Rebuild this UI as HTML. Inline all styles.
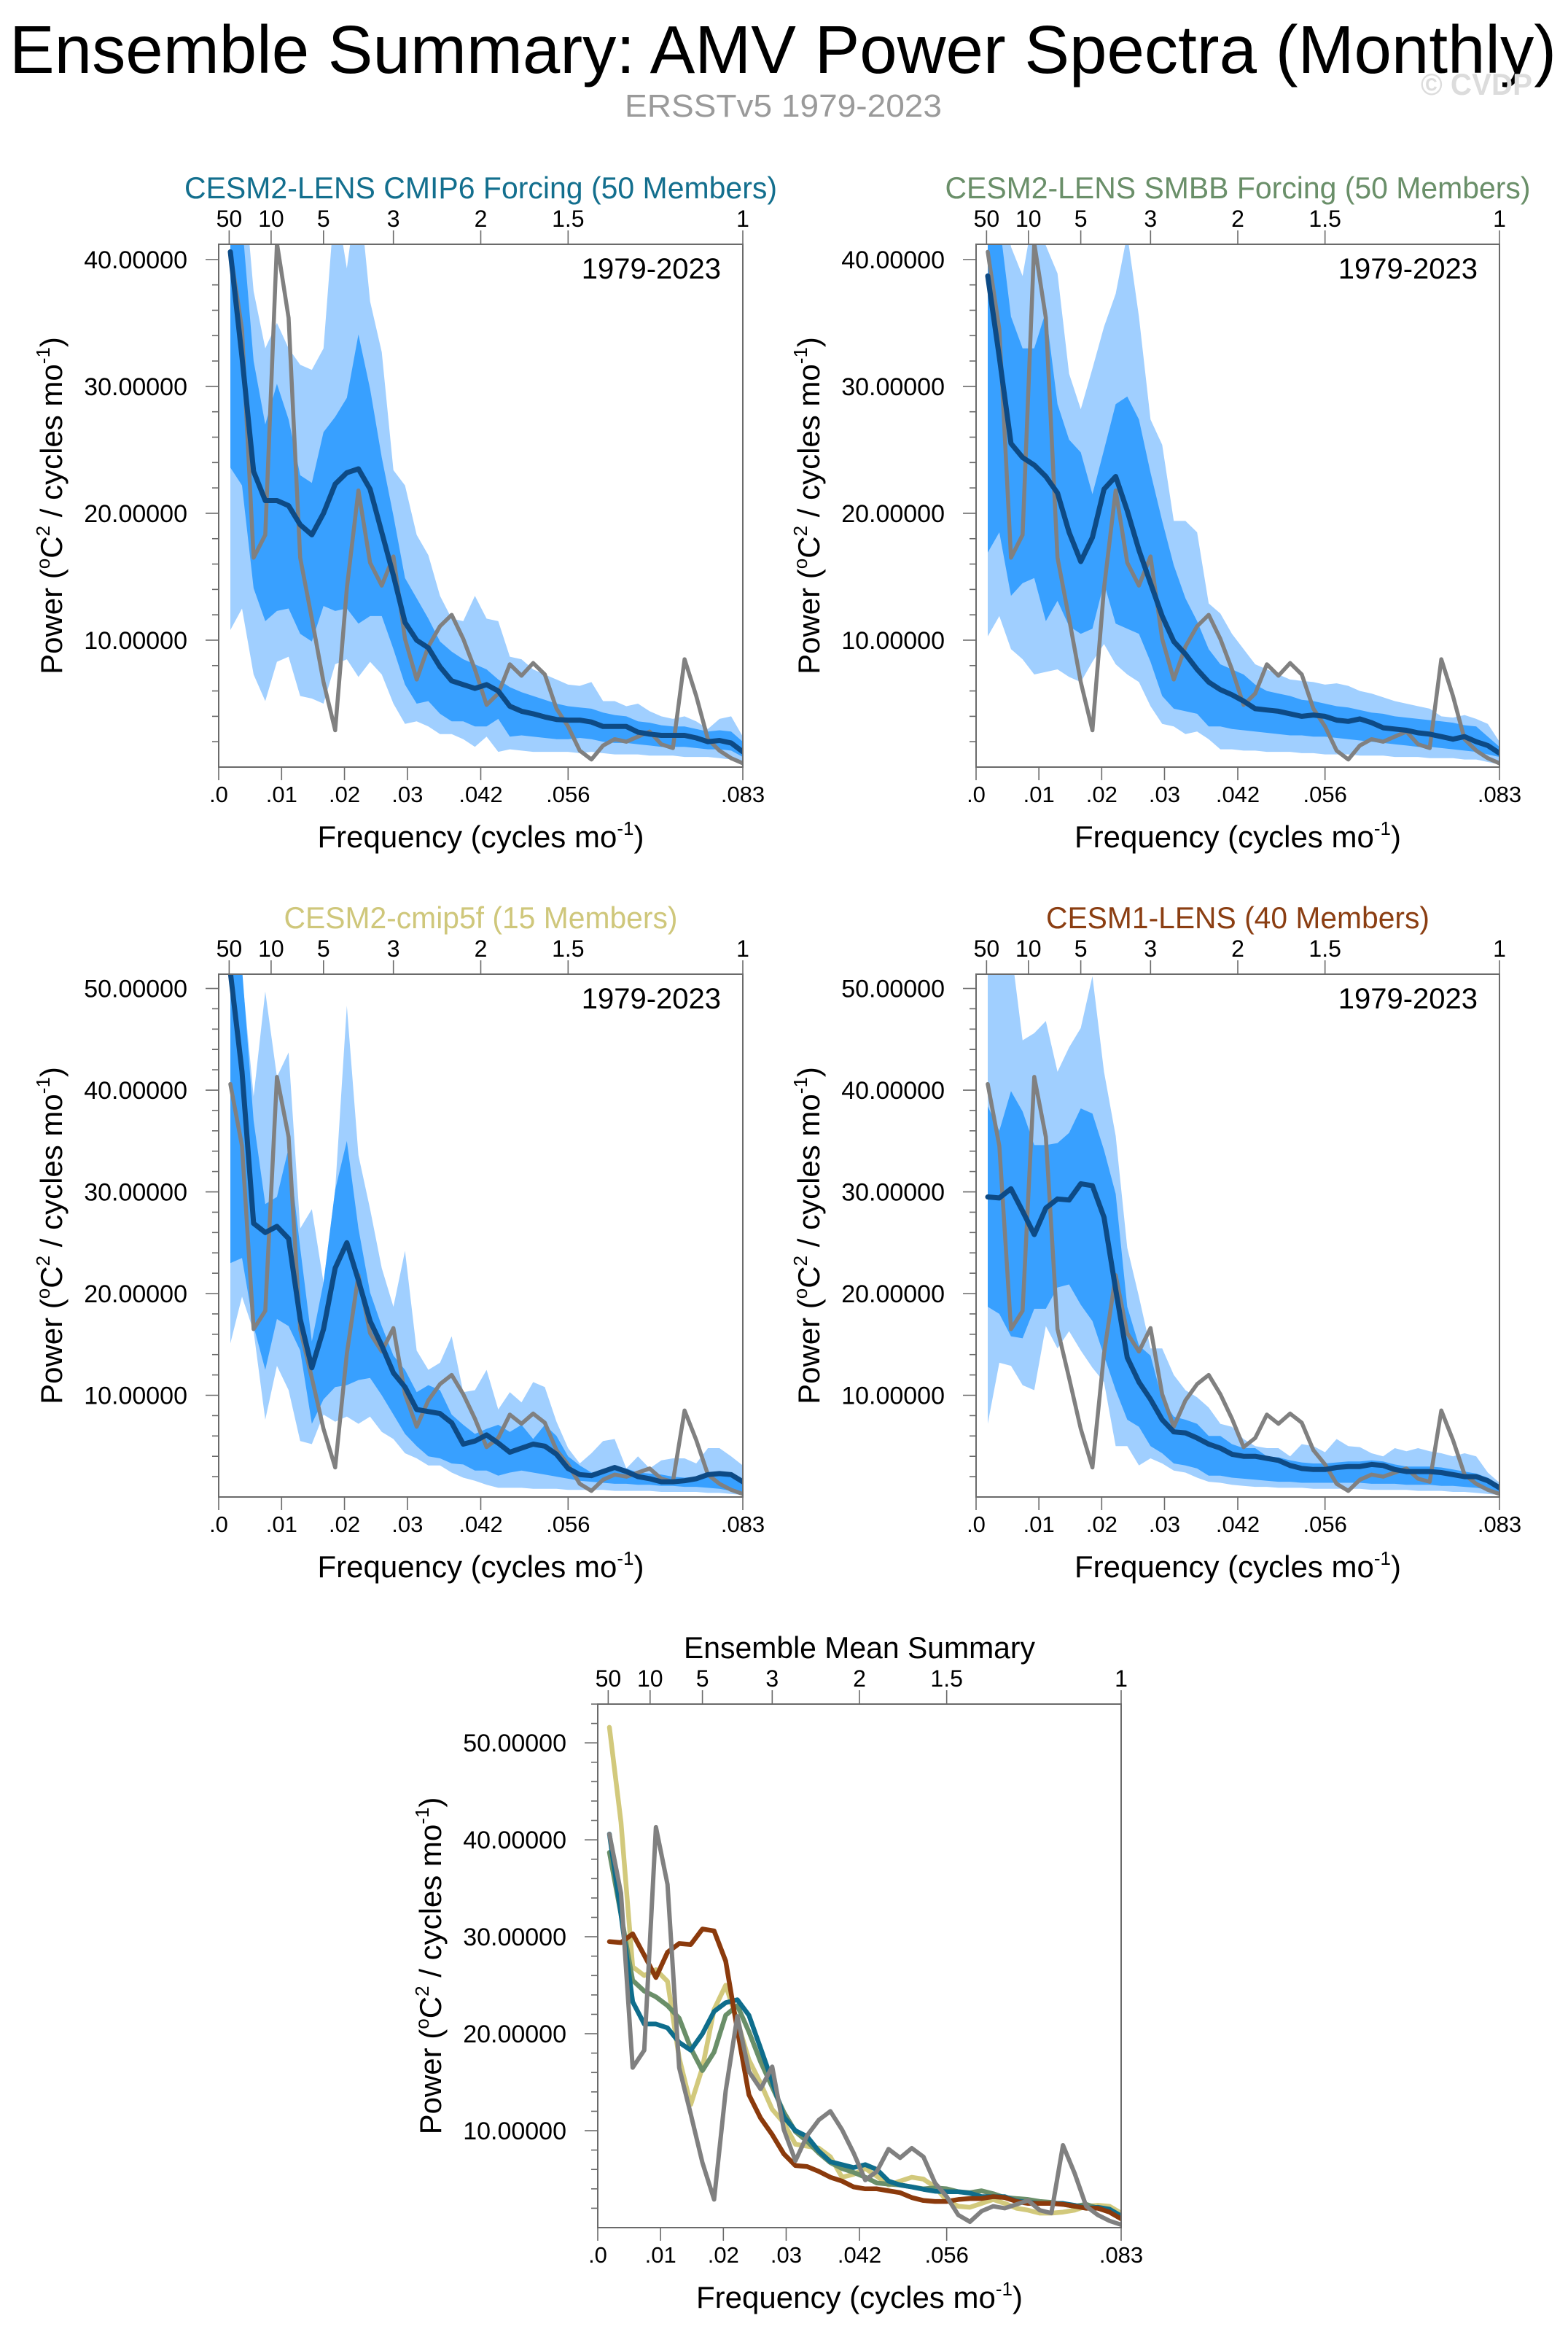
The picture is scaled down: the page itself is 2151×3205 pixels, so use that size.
<!DOCTYPE html>
<html><head><meta charset="utf-8">
<style>
html,body{margin:0;padding:0;background:#fff;}
svg{display:block;font-family:"Liberation Sans",Arial,sans-serif;}
</style></head>
<body>
<svg id="fig" xmlns="http://www.w3.org/2000/svg" width="2151" height="3205" viewBox="0 0 2151 3205">
<rect x="0" y="0" width="2151" height="3205" fill="#ffffff"/>
<text x="13" y="100" font-size="93" textLength="2122" lengthAdjust="spacingAndGlyphs" fill="#000">Ensemble Summary: AMV Power Spectra (Monthly)</text>
<text x="1949" y="130" font-size="42" font-weight="bold" fill="#dcdcdc" textLength="153" lengthAdjust="spacingAndGlyphs">© CVDP</text>
<text x="857" y="160" font-size="44" fill="#9a9a9a" textLength="435" lengthAdjust="spacingAndGlyphs">ERSSTv5 1979-2023</text>
</svg>
<script>
// ---------- data (45 frequencies k/540, k=1..45) ----------
const periodTickLabels = ["50","10","5","3","2","1.5","1"];
const periodTickValues = [50,10,5,3,2,1.5,1];
const freqTickLabels = [".0",".01",".02",".03",".042",".056",".083"];
const freqTickValues = [0,0.01,0.02,0.03,1/24,1/18,1/12];
const row1YTicks = [10,20,30,40];
const row2YTicks = [10,20,30,40,50];

const obs = [40.6,34.5,16.5,18.3,41.3,35.4,16.5,11.7,6.7,2.9,14.1,21.8,16.1,14.3,16.6,10.1,6.9,9.5,11.1,12.0,10.1,7.7,4.9,5.8,8.1,7.2,8.2,7.3,4.6,3.2,1.3,0.6,1.7,2.2,2.0,2.4,2.8,1.8,1.5,8.5,5.6,2.2,1.3,0.7,0.3];

const p1Mean = [40.6,32.3,23.3,21.0,21.0,20.6,19.1,18.3,20.0,22.3,23.2,23.5,21.9,18.5,15.1,11.4,10.0,9.4,7.9,6.8,6.5,6.2,6.5,6.0,4.8,4.4,4.2,3.95,3.75,3.7,3.7,3.55,3.2,3.2,3.2,2.75,2.6,2.5,2.5,2.5,2.3,2.0,2.1,1.9,1.2];
const p1DarkHi = [45,43,32,27,30.2,27.4,23,22.4,26.4,27.6,29.1,34.1,29.8,24.4,19.8,14.9,13.3,11.7,9.9,9.1,8.5,8.1,7.7,6.9,6.3,5.9,5.6,5.3,5.0,4.8,4.7,4.6,4.3,4.1,4.0,3.6,3.5,3.3,3.2,3.2,3.0,2.8,2.9,2.8,2.0];
const p1DarkLo = [23.6,22.2,14.1,11.5,12.3,12.5,10.5,9.9,12.7,12.3,12.5,11.3,11.9,11.9,9.3,6.5,5.0,5.2,4.2,3.6,3.6,3.2,3.2,3.8,2.4,2.5,2.4,2.3,2.2,2.2,2.3,2.2,2.0,1.9,1.9,1.8,1.7,1.6,1.6,1.6,1.5,1.4,1.4,1.3,0.8];
const p1LightHi = [50,48,37.5,33,35,33,31.7,31.3,33,45,39.3,46,36.7,32.7,23.4,22.2,18.3,16.7,13.5,11.7,11.5,13.5,11.7,11.5,8.7,8.5,7.7,7.3,6.9,6.5,6.4,6.7,5.2,5.2,4.8,5.0,4.4,4.0,3.8,4.0,3.6,3.0,3.8,4.0,2.4];
const p1LightLo = [10.8,12.5,7.3,5.2,8.3,8.7,5.6,5.4,5.0,8.1,8.5,7.1,8.3,7.3,5.0,3.4,3.6,3.2,2.6,2.6,2.2,1.6,2.4,1.2,1.4,1.3,1.2,1.2,1.2,1.2,1.1,1.2,1.1,1.0,1.0,1.0,0.9,0.9,0.9,0.8,0.8,0.8,0.7,0.6,0.2];

const p2Mean = [38.7,32.3,25.5,24.4,23.8,22.9,21.6,18.5,16.2,18.1,21.9,22.9,20.2,17.1,14.5,11.9,9.9,8.9,7.7,6.7,6.1,5.7,5.2,4.6,4.5,4.4,4.2,4.0,4.1,4.0,3.7,3.6,3.8,3.5,3.1,3.0,2.9,2.7,2.6,2.4,2.2,2.4,2.0,1.7,1.1];
const p2DarkHi = [45,43,35.5,33,33,35.9,28.6,25.8,24.8,21.5,25,28.6,29.2,27.4,23.2,19.4,15.9,13.3,11.5,9.3,8.1,7.7,7.3,6.5,6.0,5.8,5.6,5.3,5.2,5.0,4.8,4.7,4.5,4.3,4.2,4.0,3.9,3.8,3.7,3.6,3.5,3.3,3.2,2.4,1.6];
const p2DarkLo = [16.9,18.5,13.5,14.5,14.9,11.5,13.1,11.1,10.5,10.9,14.5,11.3,10.9,10.5,8.3,5.6,4.6,4.4,4.2,3.2,3.2,3.0,2.9,2.8,2.7,2.6,2.5,2.5,2.4,2.4,2.3,2.2,2.1,2.0,1.9,1.8,1.7,1.6,1.6,1.5,1.4,1.3,1.2,1.0,0.8];
const p2LightHi = [48,46,41,38.7,44,41.1,38.9,31,28.2,31.4,34.7,37.3,42,35.5,27.4,25.4,19.4,19.4,18.5,12.9,12.1,10.5,9.3,8.1,7.7,7.3,6.9,6.8,6.7,6.5,6.6,6.4,6.0,5.8,5.5,5.2,5.0,4.8,4.6,4.0,3.9,4.1,3.8,3.4,2.0];
const p2LightLo = [10.3,11.9,9.3,8.5,7.3,7.5,7.7,7.1,6.7,8.3,9.7,8.1,7.3,6.7,4.8,3.4,3.2,2.6,2.8,2.2,1.4,1.4,1.3,1.3,1.2,1.2,1.2,1.1,1.1,1.0,1.0,1.0,0.9,0.9,0.9,0.8,0.8,0.8,0.7,0.7,0.7,0.6,0.6,0.4,0.2];

const p3Mean = [51.6,41.8,26.9,26.0,26.6,25.4,17.5,12.7,16.5,22.5,25.0,21.3,17.3,14.9,12.2,10.8,8.6,8.4,8.2,7.3,5.2,5.5,6.1,5.3,4.4,4.8,5.2,5.0,4.2,2.8,2.2,2.1,2.5,2.9,2.5,2.0,1.8,1.5,1.5,1.6,1.8,2.2,2.3,2.2,1.5];
const p3DarkHi = [54,52,37,28.8,29.5,34.3,24.5,15.3,21.1,30.2,35,26.4,20.1,16.8,13.9,12.5,10.3,11.0,10.5,8.1,7.1,6.2,6.7,7.1,6.4,7.1,5.7,7.1,6.0,4.0,3.1,2.4,2.6,3.1,2.8,2.4,2.3,2.2,2.0,1.9,2.0,2.2,2.3,2.4,1.4];
const p3DarkLo = [23,23.5,16.8,12.5,17.5,16.8,14.4,7.2,9.6,10.8,11.0,11.5,11.7,10.0,8.1,6.2,5.0,4.0,3.8,3.3,3.2,2.6,2.6,2.1,2.4,2.6,2.4,2.2,2.0,1.8,1.6,1.5,1.4,1.3,1.3,1.2,1.2,1.1,1.1,1.0,1.0,0.9,0.8,0.6,0.4];
const p3LightHi = [56,51.4,39.4,49.7,41.3,43.7,26.4,28.3,21.1,30.2,48.3,33.6,28.3,22.5,18.7,24.2,14.4,12.5,13.2,15.8,10.3,10.5,12.5,8.6,10.3,9.3,11.3,10.8,7.4,4.8,3.3,4.3,5.5,5.7,2.8,4.0,2.8,3.6,3.8,3.8,3.3,4.8,4.8,4.0,3.1];
const p3LightLo = [15.1,19.7,16.3,7.6,12.9,10.5,5.5,5.2,8.1,7.4,7.9,7.2,7.9,6.4,5.7,4.3,3.8,3.1,3.1,2.4,1.9,1.6,1.2,0.9,0.9,0.9,0.8,0.8,0.8,0.7,0.7,0.7,0.7,0.6,0.6,0.6,0.6,0.5,0.5,0.5,0.5,0.4,0.4,0.3,0.2];

const p4Mean = [29.5,29.4,30.3,28.1,25.8,28.4,29.3,29.2,30.8,30.6,27.5,20.4,13.7,11.3,9.6,7.6,6.4,6.3,5.8,5.2,4.8,4.2,4.0,4.0,3.8,3.6,3.1,2.8,2.7,2.7,2.9,3.0,3.0,3.2,3.1,2.7,2.5,2.5,2.5,2.4,2.2,2.0,2.0,1.6,0.9];
const p4DarkHi = [38.4,36,39.9,37.9,34.6,34.6,34.8,35.8,38.2,37.7,34.1,29.8,18.7,14.9,13.9,9.6,7.9,7.6,7.2,6.0,6.0,5.2,4.8,4.8,4.0,3.9,3.6,3.4,3.3,3.3,3.4,3.5,3.5,3.6,3.5,3.2,3.0,3.0,3.0,2.9,2.7,2.5,2.3,1.9,1.2];
const p4DarkLo = [18.7,18.0,15.8,15.6,18.5,18.5,20.6,20.9,18.9,17.3,13.9,10.5,7.6,6.9,5.0,4.3,3.3,3.1,2.8,2.1,2.1,1.9,1.8,1.7,1.6,1.5,1.5,1.4,1.4,1.4,1.4,1.4,1.4,1.3,1.3,1.3,1.2,1.2,1.2,1.1,1.1,1.0,0.9,0.7,0.4];
const p4LightHi = [56,53,54,44.9,45.6,46.8,41.8,44.2,46.1,51.2,41.8,35.5,24.5,19.7,14.6,14.6,12.0,10.5,9.8,8.8,7.2,6.9,5.7,5.0,4.8,4.8,4.0,5.2,5.0,4.4,5.7,5.0,4.9,4.3,4.0,4.8,4.5,4.8,4.5,4.3,4.0,4.3,4.0,2.4,1.4];
const p4LightLo = [7.2,13.2,12.9,11.0,10.5,16.8,14.6,16.3,14.4,12.7,11.3,5.0,5.0,3.1,3.8,3.3,2.6,2.4,1.9,1.5,1.4,1.2,1.1,1.0,1.0,0.9,0.9,0.9,0.8,0.8,0.8,0.8,0.8,0.7,0.7,0.7,0.7,0.6,0.6,0.6,0.5,0.5,0.4,0.3,0.2];

// ---------- drawing ----------
const NS = "http://www.w3.org/2000/svg";
const svg = document.getElementById("fig");
const NPTS = 540;
const FMAX = 1/12;
const C_LIGHT = "#a0cfff", C_DARK = "#38a0ff", C_MEAN = "#0d4a85", C_OBS = "#808080", C_AXIS = "#6a6a6a";

function mk(tag, attrs, parent) {
  const e = document.createElementNS(NS, tag);
  for (const k in attrs) e.setAttribute(k, attrs[k]);
  (parent || svg).appendChild(e);
  return e;
}
function freqs(n) { const f = []; for (let k = 1; k <= n; k++) f.push(k / NPTS); return f; }

let clipId = 0;
function panel(cfg) {
  const g = mk("g", {});
  
  
  const x0 = cfg.x0, y0 = cfg.y0, w = cfg.w, h = cfg.h;
  const xs = f => x0 + f / FMAX * w;
  const ys = v => y0 + h - v / cfg.ymax * h;
  const fr = freqs(45);

  // title
  const t = mk("text", {x: x0 + w/2, y: y0 - 63, "font-size": 42, "text-anchor": "middle", fill: cfg.titleColor, textLength: cfg.titleLen, lengthAdjust: "spacingAndGlyphs"}, g);
  t.textContent = cfg.title;
  
  

  // clip
  clipId++;
  const cp = mk("clipPath", {id: "clip" + clipId}, g);
  mk("rect", {x: x0, y: y0, width: w, height: h}, cp);
  const plot = mk("g", {"clip-path": "url(#clip" + clipId + ")"}, g);
  
  

  function band(hi, lo, color, nm) {
    let d = "";
    hi.forEach((v, i) => { d += (i ? "L" : "M") + xs(fr[i]).toFixed(1) + "," + ys(v).toFixed(1); });
    for (let i = lo.length - 1; i >= 0; i--) d += "L" + xs(fr[i]).toFixed(1) + "," + ys(lo[i]).toFixed(1);
    const p = mk("path", {d: d + "Z", fill: color, stroke: "none"}, plot);
    
    
  }
  function line(vals, color, width, nm) {
    const pts = vals.map((v, i) => xs(fr[i]).toFixed(1) + "," + ys(v).toFixed(1)).join(" ");
    const p = mk("polyline", {points: pts, fill: "none", stroke: color, "stroke-width": width, "stroke-linejoin": "round", "stroke-linecap": "round"}, plot);
    
    
  }
  if (cfg.lightHi) band(cfg.lightHi, cfg.lightLo, C_LIGHT, 'spread-10-90-band');
  if (cfg.darkHi) band(cfg.darkHi, cfg.darkLo, C_DARK, 'spread-25-75-band');
  if (cfg.lines) cfg.lines.forEach(l => line(l.vals, l.color, l.width, l.name));

  // box
  const box = mk("rect", {x: x0, y: y0, width: w, height: h, fill: "none", stroke: C_AXIS, "stroke-width": 2}, g);
  
  

  // y ticks
  for (let v = 2; v <= cfg.ymax; v += 2) {
    const major = v % 10 === 0;
    const y = ys(v);
    const tk = mk("line", {x1: x0, x2: x0 - (major ? 18 : 9), y1: y, y2: y, stroke: C_AXIS, "stroke-width": 1.6}, g);
    
    
  }
  cfg.yTicks.forEach(v => {
    const lb = mk("text", {x: x0 - 43, y: ys(v) + 12, "font-size": 34, "text-anchor": "end", fill: "#000"}, g);
    lb.textContent = v.toFixed(5);
    
    
  });
  // bottom ticks
  freqTickValues.forEach((f, i) => {
    const x = xs(f);
    const tk = mk("line", {x1: x, x2: x, y1: y0 + h, y2: y0 + h + 18, stroke: C_AXIS, "stroke-width": 1.6}, g);
    
    
    const lb = mk("text", {x: x, y: y0 + h + 48, "font-size": 31, "text-anchor": "middle", fill: "#000"}, g);
    lb.textContent = freqTickLabels[i];
    
    
  });
  // top period ticks
  periodTickValues.forEach((p, i) => {
    const x = xs(1 / (12 * p));
    const tk = mk("line", {x1: x, x2: x, y1: y0, y2: y0 - 19, stroke: C_AXIS, "stroke-width": 1.6}, g);
    
    
    const lb = mk("text", {x: x, y: y0 - 24, "font-size": 32, "text-anchor": "middle", fill: "#000"}, g);
    lb.textContent = periodTickLabels[i];
    
    
  });
  // year label
  if (cfg.years) {
    const yl = mk("text", {x: x0 + w - 30, y: y0 + 47, "font-size": 40, "text-anchor": "end", fill: "#000"}, g);
    yl.textContent = "1979-2023";
    
    
  }
  // x axis title
  const xt = mk("text", {x: x0 + w/2, y: y0 + h + 110, "font-size": 42, "text-anchor": "middle", fill: "#000"}, g);
  xt.innerHTML = 'Frequency (cycles mo<tspan font-size="26" dy="-17">-1</tspan><tspan dy="17">)</tspan>';
  
  
  // y axis title
  const cx = x0 - 229, cy = y0 + h/2;
  const yt = mk("text", {x: cx, y: cy + 14, "font-size": 42, "text-anchor": "middle", fill: "#000", transform: "rotate(-90 " + cx + " " + cy + ")"}, g);
  yt.innerHTML = 'Power (<tspan font-size="26" dy="-17">o</tspan><tspan dy="17">C</tspan><tspan font-size="26" dy="-17">2</tspan><tspan dy="17"> / cycles mo</tspan><tspan font-size="26" dy="-17">-1</tspan><tspan dy="17">)</tspan>';
  
  
}

function stdLines(mean) {
  return [{vals: obs, color: C_OBS, width: 5.5, name: 'observed-line'}, {vals: mean, color: C_MEAN, width: 7, name: 'ensemble-mean-line'}];
}

panel({name: 'panel-cesm2-cmip6', x0: 300, y0: 335, w: 719, h: 717, ymax: 41.2, yTicks: row1YTicks, years: true,
  title: "CESM2-LENS CMIP6 Forcing (50 Members)", titleColor: "#136f8e", titleLen: 813,
  lightHi: p1LightHi, lightLo: p1LightLo, darkHi: p1DarkHi, darkLo: p1DarkLo, lines: stdLines(p1Mean)});
panel({name: 'panel-cesm2-smbb', x0: 1339, y0: 335, w: 718, h: 717, ymax: 41.2, yTicks: row1YTicks, years: true,
  title: "CESM2-LENS SMBB Forcing (50 Members)", titleColor: "#6a8f69", titleLen: 803,
  lightHi: p2LightHi, lightLo: p2LightLo, darkHi: p2DarkHi, darkLo: p2DarkLo, lines: stdLines(p2Mean)});
panel({name: 'panel-cesm2-cmip5f', x0: 300, y0: 1336, w: 719, h: 717, ymax: 51.4, yTicks: row2YTicks, years: true,
  title: "CESM2-cmip5f (15 Members)", titleColor: "#cfc77b", titleLen: 540,
  lightHi: p3LightHi, lightLo: p3LightLo, darkHi: p3DarkHi, darkLo: p3DarkLo, lines: stdLines(p3Mean)});
panel({name: 'panel-cesm1-lens', x0: 1339, y0: 1336, w: 718, h: 717, ymax: 51.4, yTicks: row2YTicks, years: true,
  title: "CESM1-LENS (40 Members)", titleColor: "#8b3e12", titleLen: 526,
  lightHi: p4LightHi, lightLo: p4LightLo, darkHi: p4DarkHi, darkLo: p4DarkLo, lines: stdLines(p4Mean)});
panel({name: 'panel-ensemble-mean-summary', x0: 820, y0: 2337, w: 718, h: 718, ymax: 54.0, yTicks: row2YTicks, years: false,
  title: "Ensemble Mean Summary", titleColor: "#000000", titleLen: 482,
  lines: [
    {vals: p3Mean, color: "#d2c97c", width: 6.5, name: 'cmip5f-mean-line'},
    {vals: p2Mean, color: "#6a8f69", width: 6.5, name: 'smbb-mean-line'},
    {vals: p1Mean, color: "#0e6d8c", width: 6.5, name: 'cmip6-mean-line'},
    {vals: p4Mean, color: "#8b3a0c", width: 6.5, name: 'cesm1-mean-line'},
    {vals: obs, color: C_OBS, width: 6, name: 'observed-line'}
  ]});
</script>
</body></html>
